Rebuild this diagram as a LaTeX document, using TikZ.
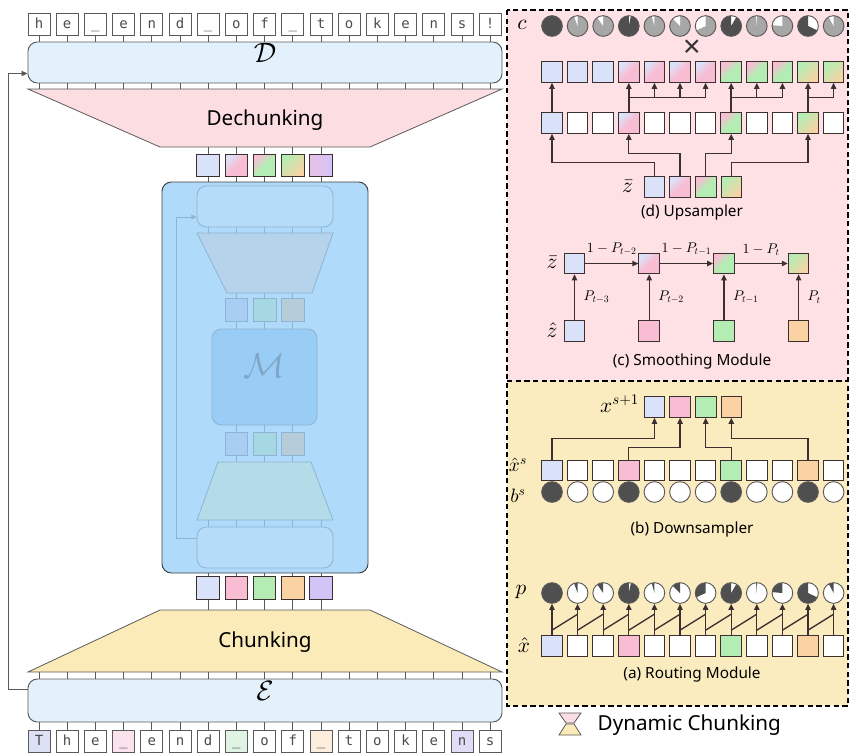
\documentclass[tikz,border=0pt]{standalone}
\usepackage{fontspec}
\setmainfont{Noto Sans}
\setmonofont{DejaVu Sans Mono}
\DeclareFontShape{OML}{cmm}{m}{it}{<->cmmi10}{}
\DeclareFontShape{OMS}{cmsy}{m}{n}{<->cmsy10}{}
\DeclareFontShape{OT1}{cmr}{m}{n}{<->cmr10}{}
\usetikzlibrary{arrows.meta,calc,fit}

\definecolor{cblue}{HTML}{DAE2FA}
\definecolor{cpink}{HTML}{F8BDD3}
\definecolor{cgreen}{HTML}{B3EDB3}
\definecolor{corange}{HTML}{FAD2A4}
\definecolor{cpurple}{HTML}{D3C4F7}
\definecolor{tblue}{HTML}{DDE1F6}
\definecolor{tpink}{HTML}{FBE3EE}
\definecolor{tgreen}{HTML}{DFF4E3}
\definecolor{torange}{HTML}{FCEDDC}
\definecolor{tpurple}{HTML}{E1DCF7}
\definecolor{panpink}{HTML}{FDE1E4}
\definecolor{panyel}{HTML}{FAECBF}
\definecolor{dechfill}{HTML}{FCDDE2}
\definecolor{chfill}{HTML}{FBEBB9}
\definecolor{encfill}{HTML}{E2F1FC}
\definecolor{netfill}{HTML}{AFDAF9}
\definecolor{ghline}{HTML}{8EB3D3}
\definecolor{ghbox}{HTML}{B5DCF9}
\definecolor{ghtrapa}{HTML}{B6D3EC}
\definecolor{ghtrapb}{HTML}{B4DCE8}
\definecolor{ghm}{HTML}{99CDF6}
\definecolor{ghtext}{HTML}{7FA6C6}
\definecolor{gha}{HTML}{A8CEF3}
\definecolor{ghb}{HTML}{A5D8E3}
\definecolor{ghc}{HTML}{B6CCD9}
\definecolor{darkc}{HTML}{4F4F4F}
\definecolor{grayc}{HTML}{A7A7A7}
\definecolor{linec}{HTML}{3B2F2F}
\definecolor{blkline}{HTML}{5A5A5A}

\tikzset{
  tok/.style={draw=blkline, line width=0.6pt, minimum size=16.5pt, inner sep=0pt,
    text height=1.6ex, text depth=0.4ex, font=\fontsize{10.5}{10.5}\ttfamily, text=black!70},
  blk/.style={draw=blkline, line width=0.7pt, rounded corners=7pt, inner sep=0pt},
  trap/.style={draw=blkline, line width=0.6pt},
  tickln/.style={draw=blkline, line width=0.6pt},
  ghost/.style={draw=ghline, line width=0.6pt},
  gbox/.style={minimum width=17pt, minimum height=17.5pt, inner sep=0pt},
  cbox/.style={draw=linec, line width=0.7pt, minimum size=17pt, inner sep=0pt},
  sbox/.style={draw=linec, line width=0.7pt, minimum size=15.5pt, inner sep=0pt},
  dot/.style={circle, draw=blkline, line width=0.7pt, minimum size=15.5pt, inner sep=0pt},
  wedge/.style 2 args={path picture={\fill[#1] (path picture bounding box.center)
    -- ++(90:10pt) arc[start angle=90, delta angle=#2, radius=10pt] -- cycle;}},
  bd/.style={fill=white, wedge={darkc}{#1}},
  nb/.style={fill=grayc, wedge={white}{#1}},
  pw/.style={fill=white, wedge={darkc}{#1}},
  fb/.style={fill=cblue}, fp/.style={fill=cpink}, fg/.style={fill=cgreen},
  fo/.style={fill=corange}, fv/.style={fill=cpurple}, fw/.style={fill=white},
  gpb/.style={top color=cblue, bottom color=cpink, middle color=cpink, shading angle=45},
  ggp/.style={top color=cpink, bottom color=cgreen, middle color=cgreen, shading angle=45},
  ggo/.style={top color=cgreen, bottom color=corange, middle color=cgreen!50!corange, shading angle=45},
  gvp/.style={left color=cpink!50!cpurple, right color=cpurple},
  arr/.style={draw=linec, line width=1pt, -{Triangle[length=4.5pt,width=4pt]}},
  link/.style={draw=linec, line width=1pt},
  mlab/.style={inner sep=0.5pt, font=\fontsize{16}{16}\selectfont},
  nlab/.style={inner sep=0pt, font=\fontsize{14.5}{14.5}\selectfont},
  slab/.style={font=\fontsize{10.5}{10.5}\selectfont},
  captxt/.style={font=\fontsize{11.5}{11.5}\selectfont},
  bigtxt/.style={font=\fontsize{15.5}{15.5}\selectfont}
}

\begin{document}
\begin{tikzpicture}[x=0.75pt,y=-0.75pt]
  \newcommand{\tokw}{28.2}
  \newcommand{\colw}{25.6}
  \useasboundingbox (0,0) rectangle (861,754);

  \foreach \ch [count=\i] in {h,e,\_,e,n,d,\_,o,f,\_,t,o,k,e,n,s,!}
    \node[tok] (tt-\i) at ({39+\tokw*(\i-1)},24) {\ch};
  \node[blk, fill=encfill, fit={(28,42) (502,83)}, font=\fontsize{21}{21}\selectfont] (dec) {$\mathcal{D}$};
  \coordinate (dtop) at (265,89);
  \coordinate (dbot) at (265,147);
  \draw[trap, fill=dechfill] (28,89) -- (502,89) -- (370,147) -- (160,147) -- cycle;
  \node[bigtxt] (dech) at (265,120) {Dechunking};
  \foreach \i in {1,...,17} {
    \draw[tickln] (tt-\i.south) -- (tt-\i |- dec.north);
    \draw[tickln] (tt-\i |- dec.south) -- (tt-\i |- dtop);
  }

  \foreach \s [count=\i] in {fb,gpb,ggp,ggo,gvp}
    \node[cbox,\s] (ct-\i) at ({208.2+\tokw*(\i-1)},165.5) {};
  \node[blk, draw=black!75, fill=netfill, fit={(162,182) (368,573)}] (net) {};
  \foreach \s [count=\i] in {fb,fp,fg,fo,fv}
    \node[cbox,\s] (cb-\i) at ({208.2+\tokw*(\i-1)},588) {};
  \foreach \i in {1,...,5} {
    \draw[tickln] (ct-\i |- dbot) -- (ct-\i.north);
    \draw[tickln] (ct-\i.south) -- (ct-\i |- net.north);
    \draw[tickln] (cb-\i |- net.south) -- (cb-\i.north);
  }

  \node[blk, ghost, fill=ghbox, fit={(197,186) (333,227)}] (itop) {};
  \draw[ghost, fill=ghtrapa] (197,233) -- (333,233) -- (312,293) -- (227,293) -- cycle;
  \coordinate (iatop) at (265,233);
  \coordinate (iabot) at (265,293);
  \foreach \c [count=\i] in {gha,ghb,ghc}
    \node[ghost, gbox, fill=\c] (ia-\i) at ({236.4+\tokw*(\i-1)},310) {};
  \node[blk, ghost, fill=ghm, fit={(212,329) (317,425)}, text=ghtext,
    font=\fontsize{26}{26}\selectfont] (im) {$\mathcal{M}$};
  \foreach \c [count=\i] in {gha,ghb,ghc}
    \node[ghost, gbox, fill=\c] (ib-\i) at ({236.4+\tokw*(\i-1)},444) {};
  \draw[ghost, fill=ghtrapb] (218,462) -- (311,462) -- (333,520) -- (197,520) -- cycle;
  \coordinate (ibtop) at (265,462);
  \coordinate (ibbot) at (265,520);
  \node[blk, ghost, fill=ghbox, fit={(197,527) (333,568)}] (ibot) {};
  \foreach \i in {1,...,5} {
    \draw[ghost] (ct-\i |- itop.south) -- (ct-\i |- iatop);
    \draw[ghost] (cb-\i |- ibbot) -- (cb-\i |- ibot.north);
  }
  \foreach \i in {1,2,3} {
    \draw[ghost] (ia-\i |- iabot) -- (ia-\i.north);
    \draw[ghost] (ia-\i.south) -- (ia-\i |- im.north);
    \draw[ghost] (ib-\i |- im.south) -- (ib-\i.north);
    \draw[ghost] (ib-\i.south) -- (ib-\i |- ibtop);
  }
  \draw[ghost, -{Triangle[length=4pt,width=3.5pt]}] ($(ibot.west)+(0,-9.5)$) -- ++(-20,0) |- ($(itop.west)+(0,10.5)$);

  \coordinate (ctop) at (265,610);
  \coordinate (cbot) at (265,672);
  \draw[trap, fill=chfill] (160,610) -- (370,610) -- (502,672) -- (28,672) -- cycle;
  \node[bigtxt] (chk) at (265,642) {Chunking};
  \node[blk, fill=encfill, fit={(28,679) (502,722)}, font=\fontsize{21}{21}\selectfont] (enc) {$\mathcal{E}$};
  \foreach \ch/\c [count=\i] in {T/tblue,h/white,e/white,\_/tpink,e/white,n/white,d/white,\_/tgreen,o/white,f/white,\_/torange,t/white,o/white,k/white,e/white,n/tpurple,s/white}
    \node[tok, fill=\c] (tb-\i) at ({39+\tokw*(\i-1)},741) {\ch};
  \foreach \i in {1,...,17} {
    \draw[tickln] (tb-\i.north) -- (tb-\i |- enc.south);
    \draw[tickln] (tb-\i |- enc.north) -- (tb-\i |- cbot);
  }
  \foreach \i in {1,...,5}
    \draw[tickln] (cb-\i.south) -- (cb-\i |- ctop);
  \draw[tickln, -{Triangle[length=4.5pt,width=4pt]}] ($(enc.west)+(0,-11)$) -- ++(-19,0) |- ($(dec.west)+(0,11)$);

  \fill[panpink] (507,10) rectangle (848,381);
  \fill[panyel] (507,381) rectangle (848,706);
  \draw[dash pattern=on 4pt off 2.5pt, line width=0.8pt] (507,10) rectangle (848,706);
  \draw[dash pattern=on 4pt off 2.5pt, line width=0.8pt] (507,381) -- (848,381);

  \node[mlab] (clab) at (522,25) {$c$};
  \foreach \s/\a [count=\i] in {bd/360,nb/20,nb/35,bd/348,nb/15,nb/45,nb/115,bd/330,nb/4,nb/85,bd/245,nb/28}
    \node[dot,\s=\a] (cc-\i) at ({552+\colw*(\i-1)},26) {};
  \node[font=\fontsize{23}{23}\selectfont\bfseries, text=black!80] (times) at (692,49) {×};
  \foreach \s [count=\i] in {fb,fb,fb,gpb,gpb,gpb,gpb,ggp,ggp,ggp,ggo,ggo}
    \node[sbox,\s] (ut-\i) at ({552+\colw*(\i-1)},72) {};
  \foreach \s [count=\i] in {fb,fw,fw,gpb,fw,fw,fw,ggp,fw,fw,ggo,fw}
    \node[sbox,\s] (um-\i) at ({552+\colw*(\i-1)},123) {};
  \foreach \s [count=\i] in {fb,gpb,ggp,ggo}
    \node[sbox,\s] (uz-\i) at ({654.5+\colw*(\i-1)},187) {};
  \node[mlab, anchor=east] (zlab) at (634,186) {$\bar z$};
  \node[captxt] (upcap) at (692,213) {(d) Upsampler};
  \draw[arr] (um-1.north) -- (ut-1.south);
  \foreach \f/\l in {4/7,8/10,11/12} {
    \draw[arr, line width=1.4pt] (um-\f.north) -- (ut-\f.south);
    \coordinate (br-\f) at ($(um-\f.north)!.5!(ut-\f.south)$);
    \pgfmathtruncatemacro{\n}{\f+1}
    \foreach \j in {\n,...,\l}
      \draw[arr] (br-\f) -| (ut-\j.south);
  }
  \foreach \z/\m/\h in {1/1/14,2/4/23,3/8/23,4/11/14}
    \draw[arr] (uz-\z.north) -- ++(0,-\h) -| (um-\m.south);

  \foreach \s [count=\i] in {fb,gpb,ggp,ggo}
    \node[sbox,\s] (sz-\i) at ({574.5+74.7*(\i-1)},263.5) {};
  \foreach \s [count=\i] in {fb,fp,fg,fo}
    \node[sbox,\s] (sh-\i) at ({574.5+74.7*(\i-1)},331) {};
  \node[mlab] (szlab) at (552,262) {$\bar z$};
  \node[mlab] (shlab) at (552,330) {$\hat z$};
  \foreach \i/\j/\t in {1/2/t-2,2/3/t-1,3/4/t}
    \draw[arr] (sz-\i) -- node[slab, midway, above=2pt] {$1-P_{\t}$} (sz-\j);
  \foreach \i/\t in {1/t-3,2/t-2,3/t-1,4/t}
    \draw[arr] (sh-\i) -- node[slab, midway, right=3pt] {$P_{\t}$} (sz-\i);
  \node[captxt] (smcap) at (692,362) {(c) Smoothing Module};

  \foreach \s [count=\i] in {fb,fp,fg,fo}
    \node[sbox,\s] (dx-\i) at ({654.5+\colw*(\i-1)},407) {};
  \node[mlab, anchor=east] (dxlab) at (640,404) {$x^{s+1}$};
  \foreach \s [count=\i] in {fb,fw,fw,fp,fw,fw,fw,fg,fw,fw,fo,fw}
    \node[sbox,\s] (dh-\i) at ({552+\colw*(\i-1)},470.5) {};
  \foreach \c [count=\i] in {darkc,white,white,darkc,white,white,white,darkc,white,white,darkc,white}
    \node[dot, fill=\c] (db-\i) at ({552+\colw*(\i-1)},492) {};
  \node[nlab] (dhlab) at (518,465) {$\hat x^s$};
  \node[nlab] (dblab) at (518,496) {$b^s$};
  \foreach \f/\t/\h in {1/1/21,4/2/12,8/3/12,11/4/21}
    \draw[arr] (dh-\f.north) -- ++(0,-\h) -| (dx-\t.south);
  \node[captxt] (dscap) at (692,530) {(b) Downsampler};

  \node[mlab] (plab) at (521,592) {$p$};
  \foreach \a [count=\i] in {360,20,35,348,15,45,115,330,4,85,245,28}
    \node[dot, pw=\a] (rp-\i) at ({552+\colw*(\i-1)},593) {};
  \foreach \s [count=\i] in {fb,fw,fw,fp,fw,fw,fw,fg,fw,fw,fo,fw}
    \node[sbox,\s] (rx-\i) at ({552+\colw*(\i-1)},646) {};
  \node[mlab] (rxlab) at (524,645) {$\hat x$};
  \foreach \i in {1,...,12}
    \draw[arr] (rx-\i.north) -- (rp-\i.south);
  \foreach \i [evaluate=\i as \j using int(\i+1)] in {1,...,11}
    \draw[link] ($(rx-\i.north)+(0,-5)$) -- ($(rx-\j.north)+(0,-21)$);
  \node[captxt] (rtcap) at (692,675) {(a) Routing Module};

  \draw[trap, fill=dechfill] (559,713) -- (581,713) -- (574,723) -- (566,723) -- cycle;
  \draw[trap, fill=chfill] (566,724) -- (574,724) -- (581,735) -- (559,735) -- cycle;
  \node[bigtxt, anchor=west] (legend) at (593,725) {Dynamic Chunking};
\end{tikzpicture}
\end{document}
